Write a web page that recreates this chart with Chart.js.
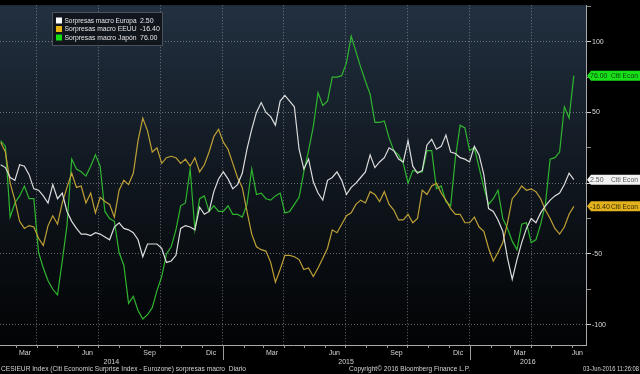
<!DOCTYPE html>
<html><head><meta charset="utf-8">
<script src="https://cdn.jsdelivr.net/npm/chart.js@4.4.1/dist/chart.umd.min.js"></script>
<style>html,body{margin:0;padding:0;background:#000;overflow:hidden}canvas{display:block}</style>
</head><body>
<canvas id="c" width="640" height="374"></canvas>
<script>
// ---------- data ----------
const seriesNames = ['Sorpresas macro Europa', 'Sorpresas macro EEUU', 'Sorpresas macro Japón'];
const sideLabel = 'Citi Econ';
const firstDate = '2014-02-07';   // first weekly observation
const stepDays = 7;               // weekly observations
const axisStart = '2014-02-06';
const axisEnd = '2016-06-21';
const yMin = -114.4, yMax = 125.8;

const europa = [13,11,4,2,13,12,6,-4,-5,-9,
  -14,-1,-11,-7,-20,-27,-32,-36,-36,-37,
  -35,-36,-38,-40,-31,-28,-32,-33,-35,-40,
  -52,-43,-43,-43,-46,-56,-55,-51,-32,-30,
  -31,-33,-17,-22,-20,-6,3,8,3,-4,
  -1,7,24,38,50,57,50,47,41,58,
  62,58,54,24,10,17,1,-7,-12,2,
  4,8,2,-8,-3,0,4,8,20,11,
  15,18,25,23,17,15,30,12,7,9,
  27,31,24,26,34,22,21,18,17,15,
  26,20,6,-18,-20,-26,-34,-53,-68,-54,
  -42,-32,-25,-28,-21,-16,-12,-9,-7,-1,
  7,2.5];
const eeuu = [29,22,0,-12,-27,-32,-30,-31,-39,-44,
  -30,-23,-29,-14,-3,7,-3,-2,-14,-7,
  -21,-10,-13,-15,-24,-5,2,-1,7,30,
  46,37,22,25,14,18,19,18,14,17,
  12,18,8,13,22,33,38,29,24,14,
  4,-3,-20,-36,-45,-47,-48,-56,-70,-61,
  -51,-51,-52,-54,-61,-60,-66,-60,-53,-46,
  -33,-35,-29,-23,-21,-15,-12,-14,-6,-8,
  -13,-6,-15,-19,-26,-26,-22,-28,-25,-5,
  -8,-2,0,-7,-12,-18,-22,-22,-28,-28,
  -24,-31,-34,-46,-55,-49,-42,-28,-11,-7,
  -2,-5,-4,-6,-11,-19,-25,-32,-36,-31,
  -22,-16.4];
const japon = [30,26,-24,-14,-9,-2,-11,-11,-49,-60,
  -69,-75,-79,-55,-30,17,10,8,5,12,
  20,12,-20,-25,-27,-49,-58,-85,-80,-90,
  -96,-93,-88,-76,-66,-50,-45,-33,-16,-14,
  10,-33,-11,-9,-20,-16,-20,-20,-16,-22,
  -22,-24,-15,10,-8,-7,-11,-12,-9,-7,
  -21,-20,-15,-10,8,23,40,64,55,58,
  75,75,76,85,104,93,82,72,63,43,
  43,44,32,23,20,14,0,9,8,8,
  23,23,-4,-2,-13,-16,18,41,39,23,
  25,11,-3,-15,-11,-5,-25,-32,-41,-47,
  -29,-28,-42,-40,-29,-15,17,18,22,54,
  46,76];

const monthLabels = ['Mar','Jun','Sep','Dic','Mar','Jun','Sep','Dic','Mar','Jun'];
const monthLabelDates = ['2014-03-15','2014-06-15','2014-09-15','2014-12-15','2015-03-15','2015-06-15','2015-09-15','2015-12-15','2016-03-15','2016-06-15'];
const yearLabels = ['2014','2015','2016'];
const yTickValues = [-100,-75,-50,-25,0,25,50,75,100,125];
const footerLeft = 'CESIEUR Index (Citi Economic Surprise Index - Eurozone) sorpresas macro  Diario';
const footerMid = 'Copyright\u00A9 2016 Bloomberg Finance L.P.';
const footerRight = '03-Jun-2016 11:26:08';

// ---------- styles ----------
const lineColors = ['#dcdcdc', '#bfa036', '#2fb52f'];
const keyColors = ['#ffffff', '#e8b414', '#12e012'];
const boxColors = ['#f2f2f2', '#e2b21e', '#18e018'];
const boxText = ['#555555', '#3a2c00', '#0b3d0b'];
const GRID = 'rgba(175,180,186,0.55)';
const FONT = '"Liberation Sans", Arial, sans-serif';

// ---------- helpers ----------
const D0 = Date.UTC(2014, 0, 1);
const dayOf = s => (Date.parse(s + 'T00:00:00Z') - D0) / 864e5;
const x0 = dayOf(firstDate);
const toPts = arr => arr.map((v, i) => ({x: x0 + i * stepDays, y: v}));
const xMin = dayOf(axisStart), xMax = dayOf(axisEnd);

function monthStarts() {
  const out = [];
  const s = new Date(Date.parse(axisStart + 'T00:00:00Z'));
  let y = s.getUTCFullYear(), m = s.getUTCMonth() + 1;
  while (true) {
    if (m > 11) { m = 0; y++; }
    const d = (Date.UTC(y, m, 1) - D0) / 864e5;
    if (d > xMax) break;
    out.push({day: d, month: m, year: y});
    m++;
  }
  return out;
}
const months = monthStarts();
const quarterDays = months.filter(o => o.month % 3 === 0).map(o => o.day);

const series = [europa, eeuu, japon];

const decoPlugin = {
  id: 'deco',
  beforeDraw(chart) {
    const {ctx, chartArea: a, width, height} = chart;
    ctx.save();
    ctx.fillStyle = '#000';
    ctx.fillRect(0, 0, width, height);
    const g = ctx.createLinearGradient(0, a.top, 0, a.bottom);
    g.addColorStop(0, '#223040');
    g.addColorStop(0.5, '#10171f');
    g.addColorStop(1, '#020304');
    ctx.fillStyle = g;
    ctx.fillRect(a.left, a.top, a.right - a.left, a.bottom - a.top);
    ctx.restore();
  },
  afterDraw(chart) {
    const {ctx, chartArea: a} = chart;
    const xs = chart.scales.x, ys = chart.scales.y;
    ctx.save();
    // month tick marks
    ctx.strokeStyle = '#9a9a9a';
    ctx.lineWidth = 1;
    months.forEach(o => {
      const px = Math.round(xs.getPixelForValue(o.day)) + 0.5;
      ctx.beginPath(); ctx.moveTo(px, a.bottom); ctx.lineTo(px, a.bottom + 3); ctx.stroke();
    });
    // year separators
    months.filter(o => o.month === 0).forEach(o => {
      const px = Math.round(xs.getPixelForValue(o.day)) + 0.5;
      ctx.beginPath(); ctx.moveTo(px, a.bottom); ctx.lineTo(px, a.bottom + 15); ctx.stroke();
    });
    // month labels
    ctx.font = '7px ' + FONT;
    ctx.fillStyle = '#d4d4d4';
    ctx.textBaseline = 'middle';
    ctx.textAlign = 'center';
    monthLabels.forEach((t, i) => {
      let px = xs.getPixelForValue(dayOf(monthLabelDates[i]));
      const w = ctx.measureText(t).width;
      px = Math.min(px, a.right - w / 2 - 3);
      ctx.fillText(t, px, a.bottom + 8);
    });
    // year labels centred on visible span
    yearLabels.forEach(t => {
      const yr = +t;
      const s = Math.max(dayOf(yr + '-01-01'), xMin);
      const e = Math.min(dayOf((yr + 1) + '-01-01'), xMax);
      const px = (xs.getPixelForValue(s) + xs.getPixelForValue(e)) / 2;
      ctx.fillText(t, px, a.bottom + 17);
    });
    // footer
    ctx.textAlign = 'left';
    ctx.fillText(footerLeft, 1, 369.5, 245);
    ctx.fillText(footerMid, 349, 369.5, 121);
    ctx.textAlign = 'right';
    ctx.fillText(footerRight, 639, 369.5, 56);

    // legend
    const lx = 52, ly = 12, lw = 111, lh = 34;
    ctx.fillStyle = 'rgba(16,21,27,0.92)';
    ctx.fillRect(lx, ly, lw, lh);
    ctx.strokeStyle = 'rgba(90,96,104,0.8)';
    ctx.strokeRect(lx + 0.5, ly + 0.5, lw - 1, lh - 1);
    ctx.textAlign = 'left';
    seriesNames.forEach((n, i) => {
      const cy = ly + 8.5 + i * 8.5;
      ctx.fillStyle = keyColors[i];
      ctx.fillRect(lx + 4, cy - 3, 6, 6);
      ctx.fillStyle = '#e6e6e6';
      ctx.fillText(n, lx + 12.5, cy + 0.5, 72);
      const last = series[i][series[i].length - 1];
      ctx.fillText(last.toFixed(2), lx + 88, cy + 0.5, 22);
    });

    // right side value tags
    series.forEach((arr, i) => {
      const last = arr[arr.length - 1];
      const cy = ys.getPixelForValue(last);
      ctx.fillStyle = boxColors[i];
      ctx.beginPath();
      ctx.moveTo(a.right + 1, cy);
      ctx.lineTo(a.right + 5, cy - 5);
      ctx.lineTo(640, cy - 5);
      ctx.lineTo(640, cy + 5);
      ctx.lineTo(a.right + 5, cy + 5);
      ctx.closePath();
      ctx.fill();
      ctx.fillStyle = boxText[i];
      ctx.textAlign = 'left';
      ctx.fillText(last.toFixed(2), a.right + 4, cy + 0.5, 21);
      ctx.textAlign = 'right';
      ctx.fillText(sideLabel, 638, cy + 0.5, 27);
    });
    ctx.restore();
  }
};

new Chart(document.getElementById('c'), {
  type: 'line',
  data: {
    datasets: series.map((arr, i) => ({
      label: seriesNames[i],
      data: toPts(arr),
      borderColor: lineColors[i],
      borderWidth: 1.2,
      pointRadius: 0,
      tension: 0,
      fill: false
    }))
  },
  options: {
    responsive: false,
    animation: false,
    layout: {padding: 0, autoPadding: false},
    plugins: {legend: {display: false}, tooltip: {enabled: false}},
    scales: {
      x: {
        type: 'linear', min: xMin, max: xMax,
        afterBuildTicks: s => { s.ticks = quarterDays.map(v => ({value: v})); },
        afterFit: s => { s.height = 29; },
        ticks: {display: false},
        grid: {color: GRID, drawTicks: false, lineWidth: 1},
        border: {display: true, color: '#a8a8a8', width: 1, dash: [1, 2]}
      },
      y: {
        position: 'right', min: yMin, max: yMax,
        afterBuildTicks: s => { s.ticks = yTickValues.map(v => ({value: v})); },
        afterFit: s => { s.width = 54; },
        ticks: {
          color: '#d8d8d8', padding: 1,
          font: {family: FONT, size: 7},
          callback: v => (v % 50 === 0 && v !== 0) ? String(v) : ''
        },
        grid: {
          color: c => (c.tick && c.tick.value % 50 === 0 && c.tick.value !== 125) ? GRID : 'rgba(0,0,0,0)',
          tickColor: c => (c.tick && c.tick.value % 50 === 0) ? '#d0d0d0' : '#8a8a8a',
          tickLength: 5, lineWidth: 1
        },
        border: {display: true, color: '#a8a8a8', width: 1, dash: [1, 2]}
      }
    }
  },
  plugins: [decoPlugin]
});
</script>
</body></html>
